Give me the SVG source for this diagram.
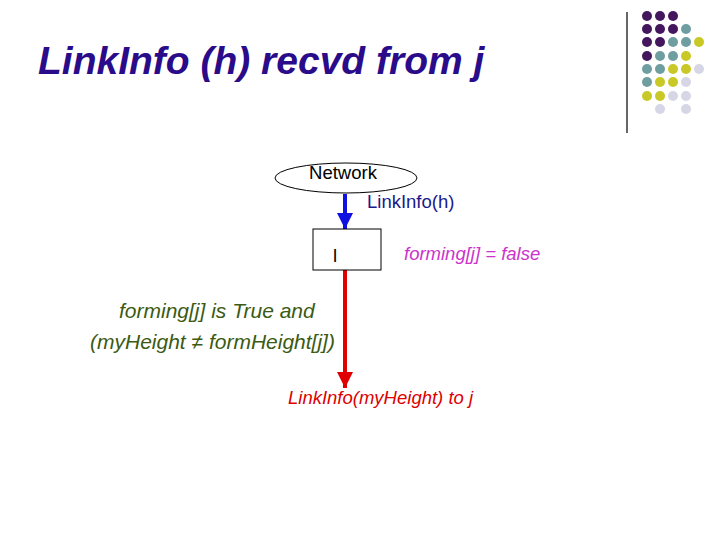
<svg xmlns="http://www.w3.org/2000/svg" width="720" height="540" viewBox="0 0 720 540">
<style>
text{font-family:"Liberation Sans",Arial,sans-serif}
.t{font-size:39px;font-weight:bold;font-style:italic;fill:#2a0c8a}
.s{font-size:18.5px}
.g{font-size:21px;font-style:italic;fill:#3b5a12}
.P{fill:#44165e}.T{fill:#6f9ea0}.Y{fill:#c8c826}.L{fill:#d6d6e6}
</style>
<defs>
<marker id="ab" markerWidth="4" markerHeight="4" refX="4" refY="2" orient="auto" markerUnits="strokeWidth"><path d="M0,0 L4,2 L0,4 Z" fill="#1010e0"/></marker>
<marker id="ar" markerWidth="4" markerHeight="4" refX="4" refY="2" orient="auto" markerUnits="strokeWidth"><path d="M0,0 L4,2 L0,4 Z" fill="#e00000"/></marker>
</defs>
<rect width="720" height="540" fill="#fff"/>
<g id="deco">
<line x1="627" y1="12" x2="627" y2="133" stroke="#000" stroke-width="1.2"/>
<g>
<circle class="P" cx="647" cy="16" r="5"/><circle class="P" cx="660" cy="16" r="5"/><circle class="P" cx="673" cy="16" r="5"/>
<circle class="P" cx="647" cy="29" r="5"/><circle class="P" cx="660" cy="29" r="5"/><circle class="P" cx="673" cy="29" r="5"/><circle class="T" cx="686" cy="29" r="5"/>
<circle class="P" cx="647" cy="42" r="5"/><circle class="P" cx="660" cy="42" r="5"/><circle class="T" cx="673" cy="42" r="5"/><circle class="T" cx="686" cy="42" r="5"/><circle class="Y" cx="699" cy="42" r="5"/>
<circle class="P" cx="647" cy="56" r="5"/><circle class="T" cx="660" cy="56" r="5"/><circle class="T" cx="673" cy="56" r="5"/><circle class="Y" cx="686" cy="56" r="5"/>
<circle class="T" cx="647" cy="69" r="5"/><circle class="T" cx="660" cy="69" r="5"/><circle class="Y" cx="673" cy="69" r="5"/><circle class="Y" cx="686" cy="69" r="5"/><circle class="L" cx="699" cy="69" r="5"/>
<circle class="T" cx="647" cy="82" r="5"/><circle class="Y" cx="660" cy="82" r="5"/><circle class="Y" cx="673" cy="82" r="5"/><circle class="L" cx="686" cy="82" r="5"/>
<circle class="Y" cx="647" cy="96" r="5"/><circle class="Y" cx="660" cy="96" r="5"/><circle class="L" cx="673" cy="96" r="5"/><circle class="L" cx="686" cy="96" r="5"/>
<circle class="L" cx="660" cy="109" r="5"/><circle class="L" cx="686" cy="109" r="5"/>
</g>
</g>
<text class="t" x="38" y="74">LinkInfo (h) recvd from j</text>
<g id="connectors">
<line x1="345" y1="194" x2="345" y2="229" stroke="#1010e0" stroke-width="4" marker-end="url(#ab)"/>
<line x1="345" y1="270" x2="345" y2="388" stroke="#e00000" stroke-width="4" marker-end="url(#ar)"/>
</g>
<g id="network">
<ellipse cx="346" cy="178" rx="71" ry="15" fill="#fff" stroke="#000" stroke-width="1"/>
<text class="s" x="343" y="179" text-anchor="middle" fill="#000">Network</text>
</g>
<g id="node-l">
<rect x="313" y="229" width="68" height="41" fill="#fff" stroke="#000" stroke-width="1"/>
<text class="s" x="333" y="262" fill="#000">l</text>
</g>
<text class="s" x="367" y="208" fill="#1a1a8c">LinkInfo(h)</text>
<text class="s" x="404" y="260" fill="#cc33cc" font-style="italic">forming[j] = false</text>
<text class="g" x="119" y="318">forming[j] is True and</text>
<text class="g" x="90" y="349">(myHeight ≠ formHeight[j])</text>
<text class="s" x="288" y="404" fill="#dd0000" font-style="italic">LinkInfo(myHeight) to j</text>
</svg>
